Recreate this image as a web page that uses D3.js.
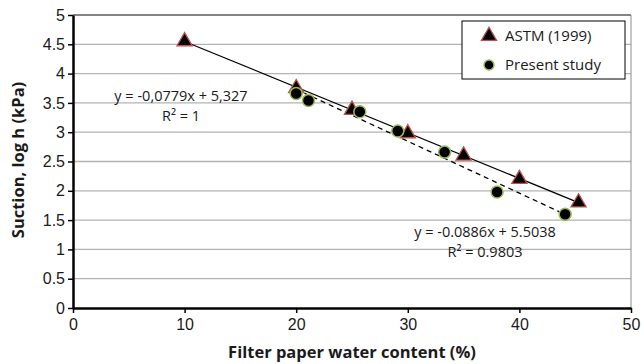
<!DOCTYPE html>
<html>
<head>
<meta charset="utf-8">
<script src="https://cdn.jsdelivr.net/npm/d3@7"></script>
<style>
  body { margin: 0; background: #fff; }
  svg { font-family: "Open Sans", sans-serif; }
  .axis path, .axis line { stroke: #000; }
  .grid line { stroke: #b3b3b3; }
</style>
</head>
<body>
<svg id="chart" width="641" height="364"></svg>
<script>
// ASTM (1999) calibration points
var astmX = [10, 20, 25, 30, 35, 40, 45.3];
var astmY = [4.55, 3.75, 3.38, 2.98, 2.60, 2.20, 1.80];

// present study points
var presentX = [20, 21.1, 25.7, 29.1, 33.3, 38, 44.1];
var presentY = [3.66, 3.54, 3.35, 3.02, 2.66, 1.98, 1.60];

// trendline coefficients [slope, intercept] and their labels
var astmFit = [-0.0779, 5.327];
var presentFit = [-0.0886, 5.5038];
var astmLabel = ['y = -0,0779x + 5,327', 'R² = 1'];
var presentLabel = ['y = -0.0886x + 5.5038', 'R² = 0.9803'];

var seriesNames = ['ASTM (1999)', 'Present study'];
var xTicks = [0, 10, 20, 30, 40, 50];
var yTicks = [0, 0.5, 1, 1.5, 2, 2.5, 3, 3.5, 4, 4.5, 5];

const margin = { top: 15, right: 10, bottom: 56, left: 73 };
const svg = d3.select('#chart');
const w = 641, h = 364;
const width = w - margin.left - margin.right;
const height = h - margin.top - margin.bottom;

const x = d3.scaleLinear().domain([0, 50]).range([0, width]);
const y = d3.scaleLinear().domain([0, 5]).range([height, 0]);

const g = svg.append('g').attr('transform', 'translate(' + margin.left + ',' + margin.top + ')');

// gridlines
g.append('g').attr('class', 'grid')
  .selectAll('line').data(yTicks.filter(d => d > 0))
  .enter().append('line')
  .attr('x1', 0).attr('x2', width)
  .attr('y1', d => y(d)).attr('y2', d => y(d))
  .attr('stroke-width', 1.3);

// right / top border
g.append('line')
  .attr('x1', width).attr('x2', width).attr('y1', 0).attr('y2', height)
  .attr('stroke', '#8c8c8c').attr('stroke-width', 1);
g.append('line')
  .attr('x1', 0).attr('x2', width).attr('y1', 0).attr('y2', 0)
  .attr('stroke', '#6e6e6e').attr('stroke-width', 1.3);

// axes
const axisX = d3.axisBottom(x).tickValues(xTicks).tickSize(5).tickSizeOuter(0);
const gx = g.append('g').attr('class', 'axis')
  .attr('transform', 'translate(0,' + height + ')').call(axisX);
gx.select('.domain').attr('stroke-width', 2.5);
gx.selectAll('line').attr('stroke-width', 1.5);
gx.selectAll('text').attr('font-size', 16).attr('fill', '#1a1a1a').attr('dy', '0.85em');

const axisY = d3.axisLeft(y).tickValues(yTicks).tickSize(5).tickSizeOuter(0).tickFormat(d3.format('~g'));
const gy = g.append('g').attr('class', 'axis').call(axisY);
gy.select('.domain').attr('stroke-width', 2.5);
gy.selectAll('line').attr('stroke-width', 1.5);
gy.selectAll('text').attr('font-size', 16).attr('fill', '#1a1a1a').attr('x', -8);

// trendlines
function fitLine(xs, fit) {
  const x0 = d3.min(xs), x1 = d3.max(xs);
  return [[x0, fit[0] * x0 + fit[1]], [x1, fit[0] * x1 + fit[1]]];
}
const line = d3.line().x(d => x(d[0])).y(d => y(d[1]));

g.append('path').datum(fitLine(astmX, astmFit))
  .attr('d', line).attr('fill', 'none').attr('stroke', '#000').attr('stroke-width', 1.2);
g.append('path').datum(fitLine(presentX, presentFit))
  .attr('d', line).attr('fill', 'none').attr('stroke', '#000').attr('stroke-width', 1.3)
  .attr('stroke-dasharray', '5,4');

const tri = d3.symbol().type(d3.symbolTriangle).size(100);

// markers
g.selectAll('.astm').data(astmX)
  .enter().append('path').attr('class', 'astm')
  .attr('d', tri)
  .attr('transform', (d, i) => 'translate(' + x(d) + ',' + y(astmY[i]) + ')')
  .attr('fill', '#000').attr('stroke', '#c0504d').attr('stroke-width', 1.3);

g.selectAll('.present').data(presentX)
  .enter().append('circle').attr('class', 'present')
  .attr('cx', d => x(d)).attr('cy', (d, i) => y(presentY[i]))
  .attr('r', 6).attr('fill', '#000').attr('stroke', '#9bbb59').attr('stroke-width', 1.5);

// equation labels
function eqLabel(lines, cx, cy) {
  const t = g.append('text').attr('text-anchor', 'middle').attr('font-size', 14.5).attr('fill', '#1a1a1a');
  lines.forEach((s, i) => {
    t.append('tspan').attr('x', cx).attr('y', cy + i * 20).text(s);
  });
}
eqLabel(astmLabel, 108, 86);
eqLabel(presentLabel, 412, 222);

// legend
const lg = svg.append('g').attr('transform', 'translate(462,21)');
lg.append('rect').attr('width', 163).attr('height', 58)
  .attr('fill', '#fff').attr('stroke', '#000').attr('stroke-width', 1);
lg.append('path').attr('d', tri).attr('transform', 'translate(27,15)')
  .attr('fill', '#000').attr('stroke', '#c0504d').attr('stroke-width', 1.3);
lg.append('circle').attr('cx', 27).attr('cy', 44).attr('r', 5)
  .attr('fill', '#000').attr('stroke', '#9bbb59').attr('stroke-width', 1.5);
lg.selectAll('.lt').data(seriesNames).enter().append('text')
  .attr('x', 43).attr('y', (d, i) => 15 + i * 29).attr('dy', '0.35em')
  .attr('font-size', 15).attr('fill', '#1a1a1a').text(d => d);

// axis titles
svg.append('text').attr('x', 352).attr('y', 358).attr('text-anchor', 'middle')
  .attr('font-size', 16.5).attr('font-weight', 'bold').attr('fill', '#1a1a1a')
  .text('Filter paper water content (%)');
svg.append('text').attr('transform', 'translate(24,160) rotate(-90)').attr('text-anchor', 'middle')
  .attr('font-size', 16.5).attr('font-weight', 'bold').attr('fill', '#1a1a1a')
  .text('Suction, log h (kPa)');
</script>
</body>
</html>
